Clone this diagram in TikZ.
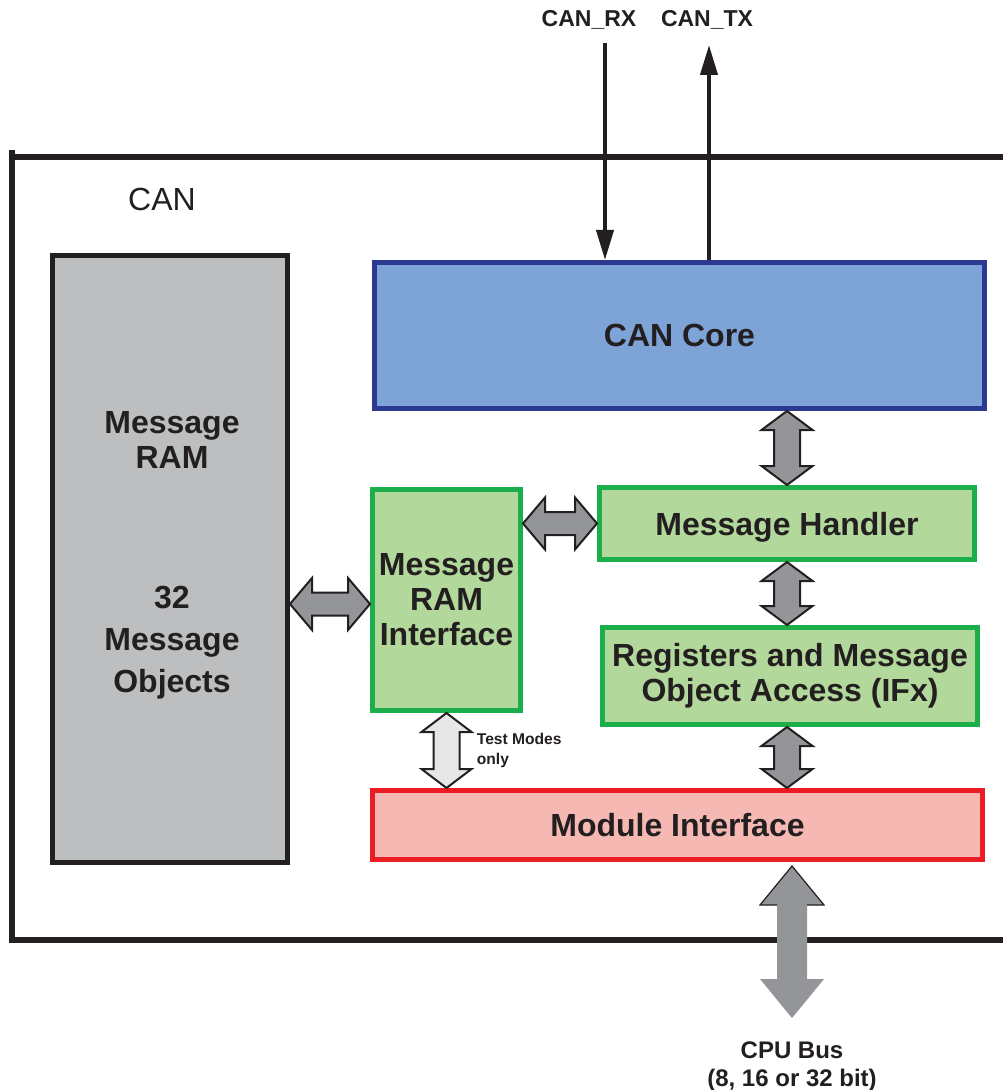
\documentclass[tikz,border=0pt]{standalone}
\usepackage{fontspec}
\setmainfont{Liberation Sans}
\usepackage{tikz}
\usetikzlibrary{arrows.meta, positioning, calc}
\definecolor{canink}{HTML}{231F20}
\definecolor{coreblue}{HTML}{7DA3D7}
\definecolor{coreedge}{HTML}{2B3990}
\definecolor{mhgreen}{HTML}{B3D89B}
\definecolor{mhedge}{HTML}{1CAE4A}
\definecolor{mifred}{HTML}{F6B8B3}
\definecolor{mifedge}{HTML}{EC1C24}
\definecolor{ramgray}{HTML}{BCBEC0}
\definecolor{busgray}{HTML}{939598}
\definecolor{testgray}{HTML}{E6E7E8}
\newcommand{\blockfont}{\fontsize{16pt}{17.5pt}\selectfont\bfseries}
% vertical block double arrow: style, top, bottom, shaft half, head half, head length
\newcommand{\vbus}[6]{%
  \path[#1] let \p1=#2, \p2=#3 in
    (\x1,\y1) -- ({\x1+#5},{\y1-#6}) -- ({\x1+#4},{\y1-#6}) -- ({\x1+#4},{\y2+#6})
    -- ({\x1+#5},{\y2+#6}) -- (\x1,\y2) -- ({\x1-#5},{\y2+#6}) -- ({\x1-#4},{\y2+#6})
    -- ({\x1-#4},{\y1-#6}) -- ({\x1-#5},{\y1-#6}) -- cycle;}
% horizontal block double arrow: style, left, right, shaft half, head half, head length
\newcommand{\hbus}[6]{%
  \path[#1] let \p1=#2, \p2=#3 in
    (\x1,\y1) -- ({\x1+#6},{\y1+#5}) -- ({\x1+#6},{\y1+#4}) -- ({\x2-#6},{\y1+#4})
    -- ({\x2-#6},{\y1+#5}) -- (\x2,\y1) -- ({\x2-#6},{\y1-#5}) -- ({\x2-#6},{\y1-#4})
    -- ({\x1+#6},{\y1-#4}) -- ({\x1+#6},{\y1-#5}) -- cycle;}
\tikzset{
  % Module frame
  frame/.style={line width=2.8pt, draw=canink},
  framelbl/.style={font=\fontsize{16pt}{17.5pt}\selectfont, text=canink, inner sep=0pt},
  % Blocks
  block/.style={rectangle, line width=2.5pt, inner sep=0pt, align=center,
    font=\blockfont, text=canink},
  coreblock/.style={block, draw=coreedge, fill=coreblue},
  greenblock/.style={block, draw=mhedge, fill=mhgreen},
  redblock/.style={block, draw=mifedge, fill=mifred},
  ramblock/.style={block, draw=canink, fill=ramgray},
  ramlbl/.style={font=\blockfont, text=canink, align=center, inner sep=0pt},
  % Arrows
  busarrow/.style={draw=canink, fill=busgray, line width=1pt, line join=miter},
  testarrow/.style={draw=canink, fill=testgray, line width=1pt, line join=miter},
  sig/.style={-{Triangle[length=15pt, width=8.5pt]}, line width=2pt, draw=canink, fill=canink},
  % Labels
  siglbl/.style={font=\fontsize{11.5pt}{13pt}\selectfont\bfseries, text=canink, inner sep=0pt},
  buslbl/.style={font=\fontsize{12pt}{14pt}\selectfont\bfseries, text=canink,
    align=center, inner sep=0pt},
  testlbl/.style={font=\fontsize{7.8pt}{10pt}\selectfont\bfseries, text=canink,
    align=left, inner sep=0pt},
}
\begin{document}
\begin{tikzpicture}[x=0.5pt, y=-0.5pt]
  \useasboundingbox (0,0) rectangle (1003,1090);

  % CAN frame, open to the right
  \draw[frame] (12,150) -- (12,943);
  \draw[frame] (12,157) -- (1003,157);
  \draw[frame] (12,940) -- (1003,940);
  \node[framelbl, anchor=base] (can) at (162,211) {CAN};

  % Blocks
  \node[ramblock, minimum width=117.5pt, minimum height=303.5pt] (mram) at (170,559) {};
  \node[ramlbl] (ramtitle) at (172,440) {Message\\RAM};
  \node[ramlbl, font=\fontsize{16pt}{21pt}\selectfont\bfseries] (ramobj) at (172,643)
    {32\\Message\\Objects};
  \node[coreblock, minimum width=305pt, minimum height=73pt] (core) at (679.5,335.5) {CAN Core};
  \node[greenblock, minimum width=74pt, minimum height=110.5pt] (mri) at (446.5,600)
    {Message\\RAM\\Interface};
  \node[greenblock, minimum width=187.5pt, minimum height=36pt, text depth=0pt] (mh)
    at (787,523.5) {Message Handler};
  \node[greenblock, minimum width=187.5pt, minimum height=48.5pt] (regs) at (790,676)
    {Registers and Message\\Object Access (IFx)};
  \node[redblock, minimum width=305pt, minimum height=34.5pt] (mif) at (677.5,825)
    {Module Interface};

  % CAN signals
  \node[siglbl, anchor=base] (rx) at (589,27) {CAN\_RX};
  \node[siglbl, anchor=base] (tx) at (707,27) {CAN\_TX};
  \coordinate (rxin) at (605,43);
  \coordinate (txout) at (709,45);
  \draw[sig] (rxin) -- (rxin |- core.north);
  \draw[sig] (txout |- core.north) -- (txout);

  % Internal busses
  \vbus{busarrow}{(core.south -| mh.north)}{(mh.north)}{6.5pt}{12.75pt}{9.5pt}
  \vbus{busarrow}{(mh.south)}{(mh.south |- regs.north)}{6.5pt}{12.75pt}{9.5pt}
  \vbus{busarrow}{(mh.south |- regs.south)}{(mh.south |- mif.north)}{6.5pt}{12.75pt}{9.5pt}
  \coordinate (ramport) at ([yshift=-2pt]mri.west);
  \hbus{busarrow}{(mram.east |- ramport)}{(ramport)}{5.75pt}{13pt}{11pt}
  \hbus{busarrow}{(mri.east |- mh.west)}{(mh.west)}{5.75pt}{13pt}{11pt}
  \vbus{testarrow}{(mri.south)}{(mri.south |- mif.north)}{6.5pt}{12.5pt}{9.5pt}
  \node[testlbl, anchor=west, xshift=15pt] (test)
    at ($(mri.south)!0.5!(mri.south |- mif.north)$) {Test Modes\\only};

  % CPU bus
  \coordinate (cpuend) at (792,1018);
  \vbus{fill=busgray}{([yshift=-2pt]mif.south -| cpuend)}{(cpuend)}{7.5pt}{16pt}{19.5pt}
  \draw[canink, line width=0.6pt] let \p1=([yshift=-2pt]mif.south -| cpuend) in
    ({\x1-7.5pt},{\y1-19.5pt}) -- ({\x1-16pt},{\y1-19.5pt}) -- (\x1,\y1)
    -- ({\x1+16pt},{\y1-19.5pt}) -- ({\x1+7.5pt},{\y1-19.5pt});
  \node[buslbl, below=11.5pt of cpuend] (cpu) {CPU Bus\\(8, 16 or 32 bit)};
\end{tikzpicture}
\end{document}
